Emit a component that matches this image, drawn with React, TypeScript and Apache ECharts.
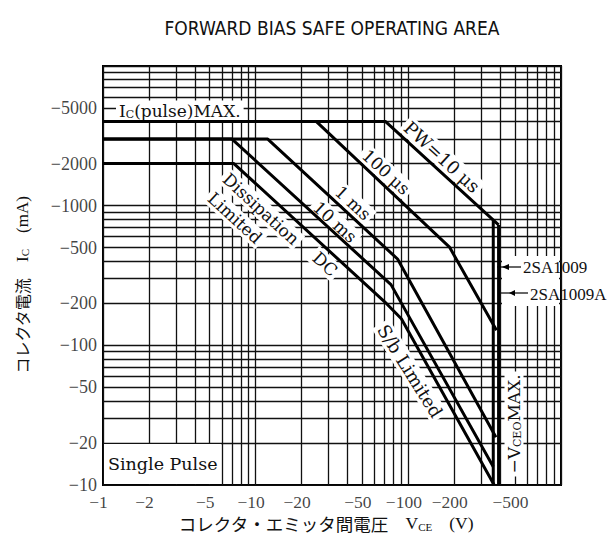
import React, { useEffect, useRef } from 'react';
import * as echarts from 'echarts';

// ---- tick labels ----
const xTickValues = [1, 2, 5, 10, 20, 50, 100, 200, 500];
const xTickLabels = ['−1', '−2', '−5', '−10', '−20', '−50', '−100', '−200', '−500'];
const yTickValues = [10, 20, 50, 100, 200, 500, 1000, 2000, 5000];
const yTickLabels = ['−10', '−20', '−50', '−100', '−200', '−500', '−1000', '−2000', '−5000'];

// ---- grid positions (1..9 per decade) ----
const gridMantissas = [1, 2, 3, 4, 5, 6, 7, 8, 9];
const xDecades = [1, 10, 100];
const yDecades = [10, 100, 1000];
const xMax = 1000;
const yMax = 10000;

// ---- curves: [VCE (V), IC (mA)] ----
const curveDC = [[1, 2000], [7.2, 2000], [70, 205], [90, 155], [365, 10]];
const curve10ms = [[1, 3000], [7, 3000], [77, 272], [360, 13.5]];
const curve1ms = [[1, 3000], [12, 3000], [85, 415], [375, 22]];
const curve100us = [[1, 4000], [25, 4000], [186, 505], [378, 128]];
const curve10us = [[1, 4000], [71, 4000], [390, 728]];
const vceo2SA1009 = [[360, 789], [360, 10]];
const vceo2SA1009A = [[390, 728], [390, 10]];

const SERIF = '"Liberation Serif", "Times New Roman", serif';
const DSERIF = '"DejaVu Serif", serif';
const JP = '"Noto Sans CJK JP", sans-serif';
const ANG = -0.742;

function curve(data: number[][]) {
  return {
    type: 'line',
    data,
    symbol: 'none',
    showSymbol: false,
    silent: true,
    z: 10,
    lineStyle: { color: '#000', width: 3, join: 'round' },
  };
}

function label(text: string, x: number, y: number, rotation: number, extra: any = {}) {
  return {
    type: 'text',
    x,
    y,
    rotation,
    z: 5,
    style: {
      text,
      fill: '#111',
      fontSize: 17,
      fontFamily: DSERIF,
      align: 'center',
      verticalAlign: 'middle',
      backgroundColor: '#fff',
      padding: [1, 3],
      ...extra,
    },
  };
}

export default function App() {
  const ref = useRef<HTMLDivElement>(null);
  useEffect(() => {
    const chart = echarts.init(ref.current!, undefined, { renderer: 'svg' });
    const xGrid = [...xDecades.flatMap((d) => gridMantissas.map((m) => m * d)), xMax];
    const yGrid = [...yDecades.flatMap((d) => gridMantissas.map((m) => m * d)), yMax];
    const gridData = [
      ...xGrid.map((v) => ({ coords: [[v, yDecades[0]], [v, yMax]] })),
      ...yGrid.map((v) => ({ coords: [[xDecades[0], v], [xMax, v]] })),
    ];
    const hiddenAxis = {
      axisLine: { show: false },
      axisTick: { show: false },
      axisLabel: { show: false },
      splitLine: { show: false },
    };
    const option: any = {
      animation: false,
      backgroundColor: '#fff',
      grid: {
        left: 103,
        right: 51,
        top: 66,
        bottom: 52,
        show: true,
        borderColor: '#000',
        borderWidth: 2,
        backgroundColor: 'rgba(0,0,0,0)',
      },
      xAxis: { type: 'log', logBase: 10, min: 1, max: xMax, ...hiddenAxis },
      yAxis: { type: 'log', logBase: 10, min: 10, max: yMax, ...hiddenAxis },
      series: [
        {
          type: 'lines',
          coordinateSystem: 'cartesian2d',
          silent: true,
          z: 1,
          data: gridData,
          lineStyle: { color: '#111', width: 1.3, opacity: 1, curveness: 0 },
          effect: { show: false },
        },
        curve(curveDC),
        curve(curve10ms),
        curve(curve1ms),
        curve(curve100us),
        curve(curve10us),
        curve(vceo2SA1009),
        curve(vceo2SA1009A),
        {
          type: 'scatter',
          data: xTickValues.map((v) => [v, yDecades[0]]),
          symbolSize: 0,
          silent: true,
          z: 12,
          itemStyle: { color: 'rgba(0,0,0,0)' },
          label: {
            show: true,
            position: 'inside',
            formatter: (p: any) => xTickLabels[p.dataIndex],
            offset: [-4.5, 17],
            color: '#111',
            fontSize: 17.5,
            lineHeight: 18,
            fontFamily: SERIF,
          },
        },
        {
          type: 'scatter',
          data: yTickValues.map((v) => [xDecades[0], v]),
          symbolSize: 0,
          silent: true,
          z: 12,
          itemStyle: { color: 'rgba(0,0,0,0)' },
          label: {
            show: true,
            position: 'inside',
            align: 'right',
            verticalAlign: 'middle',
            formatter: (p: any) => yTickLabels[p.dataIndex],
            offset: [-6, 0],
            color: '#111',
            fontSize: 18,
            fontFamily: SERIF,
          },
        },
      ],
      graphic: [
        { type: 'rect', z: 5, shape: { x: 502, y: 256, width: 57, height: 50 }, style: { fill: '#fff' } },
        { type: 'rect', z: 5, shape: { x: 104, y: 444, width: 117, height: 40 }, style: { fill: '#fff' } },
        {
          type: 'text', x: 108, y: 464, z: 6,
          style: { text: 'Single Pulse', fill: '#111', fontSize: 17.5, fontFamily: DSERIF, align: 'left', verticalAlign: 'middle' },
        },
        label('I{sub|C}(pulse)MAX.', 116, 111, 0, {
          align: 'left',
          padding: [2, 3],
          rich: { sub: { fontSize: 11, fontFamily: DSERIF, verticalAlign: 'bottom', padding: [6, 0, 0, 0] } },
        }),
        label('Dissipation', 261, 209, ANG),
        label('Limited', 235, 218, ANG),
        label('DC', 325, 264, ANG),
        label('10 ms', 335, 222, ANG),
        label('1 ms', 353, 203, ANG),
        label('100 μs', 386, 172, ANG),
        label('PW=10 μs', 442, 157, ANG, { fontSize: 18 }),
        label('S/b Limited', 410, 371, -1.01, { fontSize: 18 }),
        label('−V{sub|CEO}MAX.', 514, 424, Math.PI / 2, {
          rich: { sub: { fontSize: 11, fontFamily: DSERIF, verticalAlign: 'bottom', padding: [6, 0, 0, 0] } },
        }),
        { type: 'line', z: 6, shape: { x1: 497, y1: 267, x2: 521, y2: 267 }, style: { stroke: '#000', lineWidth: 1.2 } },
        { type: 'polygon', z: 6, shape: { points: [[502, 267], [509, 264], [509, 270]] }, style: { fill: '#000' } },
        {
          type: 'text', x: 523, y: 267, z: 6,
          style: { text: '2SA1009', fill: '#111', fontSize: 17, fontFamily: SERIF, align: 'left', verticalAlign: 'middle' },
        },
        { type: 'line', z: 6, shape: { x1: 501, y1: 293, x2: 528, y2: 293 }, style: { stroke: '#000', lineWidth: 1.2 } },
        { type: 'polygon', z: 6, shape: { points: [[509, 293], [515, 290], [515, 296]] }, style: { fill: '#000' } },
        {
          type: 'text', x: 530, y: 294, z: 6,
          style: { text: '2SA1009A', fill: '#111', fontSize: 17, fontFamily: SERIF, align: 'left', verticalAlign: 'middle' },
        },
        {
          type: 'text', x: 332, y: 28, z: 6,
          style: {
            text: 'FORWARD BIAS SAFE OPERATING AREA',
            fill: '#111',
            fontSize: 19,
            fontFamily: '"DejaVu Sans Condensed", "Liberation Sans Narrow", "Liberation Sans", sans-serif',
            align: 'center',
            verticalAlign: 'middle',
          },
        },
        {
          type: 'text', x: 326, y: 523, z: 6,
          style: {
            text: '{jp|コレクタ・エミッタ間電圧}　{v|V}{sub|CE}　{v|(V)}',
            fill: '#111',
            fontSize: 17,
            fontFamily: JP,
            align: 'center',
            verticalAlign: 'middle',
            lineHeight: 18,
            rich: {
              jp: { fontSize: 17.5, fontFamily: JP, fill: '#111', lineHeight: 18 },
              v: { fontSize: 17.5, fontFamily: SERIF, fill: '#111', lineHeight: 18 },
              sub: { fontSize: 11, fontFamily: SERIF, fill: '#111', verticalAlign: 'bottom', lineHeight: 18, padding: [5, 0, 0, 0] },
            },
          },
        },
        {
          type: 'text', x: 22, y: 285, z: 6, rotation: Math.PI / 2,
          style: {
            text: '{jp|コレクタ電流}　{v|I}{sub|C}　{v|(mA)}',
            fill: '#111',
            fontSize: 16,
            fontFamily: JP,
            align: 'center',
            verticalAlign: 'middle',
            rich: {
              jp: { fontSize: 16, fontFamily: JP, fill: '#111' },
              v: { fontSize: 17, fontFamily: SERIF, fill: '#111' },
              sub: { fontSize: 11, fontFamily: SERIF, fill: '#111', verticalAlign: 'bottom', padding: [6, 0, 0, 0] },
            },
          },
        },
      ],
    };
    chart.setOption(option);
    return () => chart.dispose();
  }, []);
  return <div ref={ref} style={{ position: 'absolute', left: 0, top: 0, width: 612, height: 537 }} />;
}
